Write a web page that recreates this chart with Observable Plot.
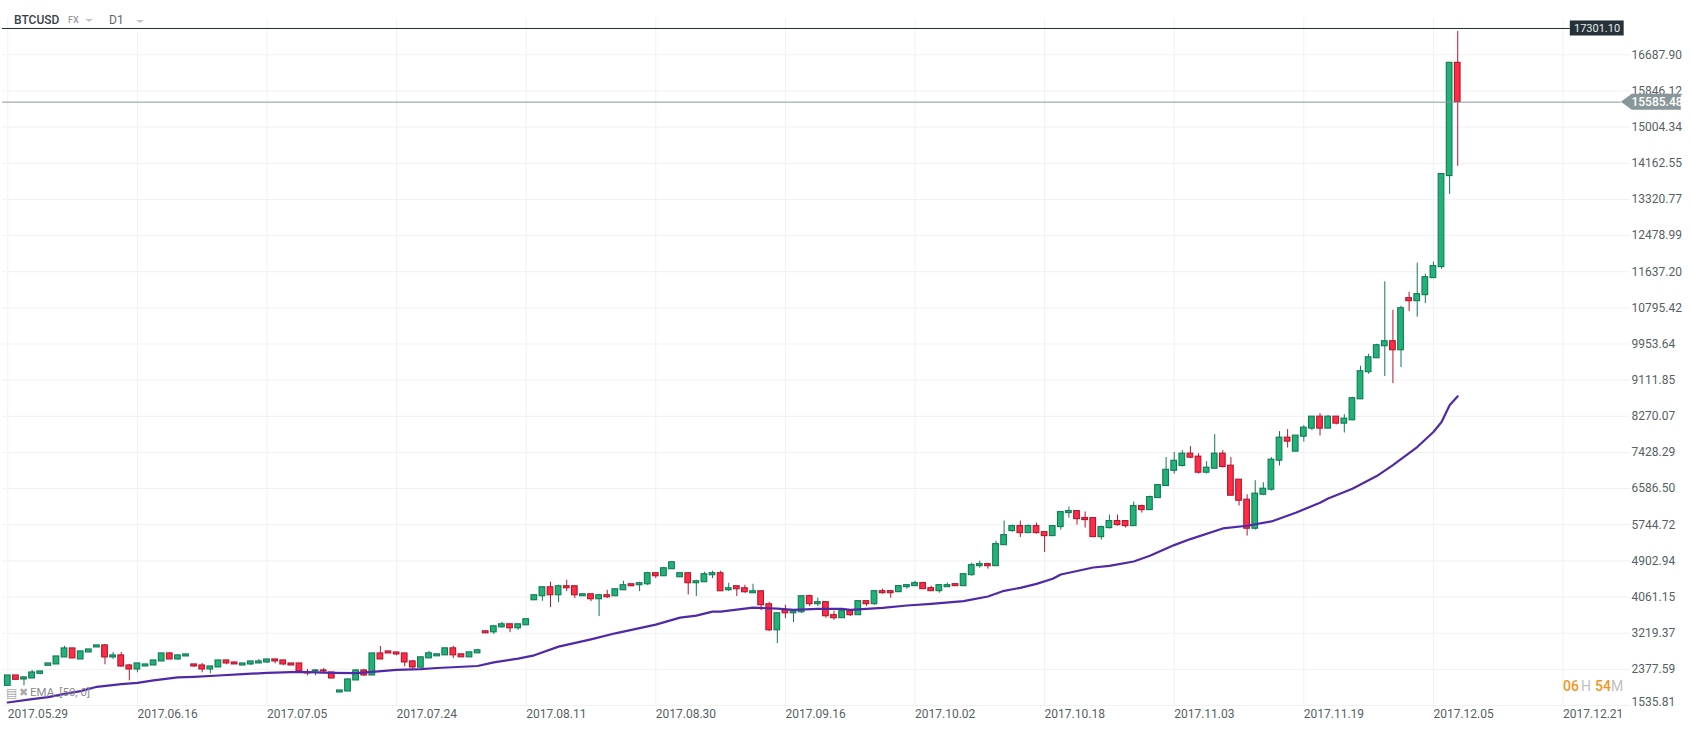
<!DOCTYPE html>
<html>
<head>
<meta charset="utf-8">
<script src="https://cdn.jsdelivr.net/npm/d3@7"></script>
<script src="https://cdn.jsdelivr.net/npm/@observablehq/plot@0.6"></script>
<style>
html,body{margin:0;padding:0;background:#fff;overflow:hidden}
#wrap{position:relative;width:1692px;height:731px;font-family:Roboto,sans-serif}
#wrap svg{display:block}
.ov{position:absolute;white-space:nowrap;line-height:1}
.caret{position:absolute;width:0;height:0;border-left:4px solid transparent;border-right:4px solid transparent;border-top:3px solid #c4c4c4}
</style>
</head>
<body>
<div id="wrap"></div>
<script>
const dateLabels = ["2017.05.29","2017.06.16","2017.07.05","2017.07.24","2017.08.11","2017.08.30","2017.09.16","2017.10.02","2017.10.18","2017.11.03","2017.11.19","2017.12.05","2017.12.21"];
const priceTicks = [1535.81,2377.59,3219.37,4061.15,4902.94,5744.72,6586.50,7428.29,8270.07,9111.85,9953.64,10795.42,11637.20,12478.99,13320.77,14162.55,15004.34,15846.12,16687.90];
const highPrice = 17301.10;
const lastPrice = 15585.48;

const open = [
1994,2235,2142,2165,2274,2461,2492,2655,2865,2608,
2771,2888,2935,2655,2702,2468,2375,2445,2468,2562,
2748,2608,2678,2492,2468,2375,2422,2585,2538,2468,
2492,2515,2538,2608,2585,2515,2515,2305,2329,2352,
2305,1839,1862,2119,2352,2235,2748,2795,2771,2748,
2562,2417,2634,2681,2704,2867,2728,2658,2751,3264,
3240,3357,3427,3334,3404,3986,4080,4289,4103,4313,
4313,4080,4126,4010,4103,4080,4219,4359,4336,4359,
4616,4546,4709,4522,4616,4383,4406,4569,4616,4219,
4313,4266,4150,4196,3893,3287,3753,3683,3707,4082,
3895,3942,3639,3569,3732,3639,3965,3895,4198,4198,
4175,4291,4315,4385,4268,4198,4291,4361,4315,4571,
4781,4827,4781,5270,5597,5713,5550,5713,5573,5480,
5690,6016,6063,5900,5900,5457,5667,5830,5830,5713,
6179,6086,6366,6646,7001,7113,7400,7330,6957,7050,
7400,7120,6794,6328,5652,6444,6561,7237,7773,7447,
7796,7983,8262,7983,8262,8099,8177,8666,9296,9622,
9902,10018,9808,11021,10951,11091,11487,11743,13864,16501];
const close = [
2235,2134,2189,2305,2329,2515,2678,2865,2632,2795,
2841,2935,2655,2702,2445,2375,2515,2492,2585,2748,
2608,2702,2725,2445,2375,2445,2585,2515,2492,2515,
2562,2562,2608,2562,2492,2468,2329,2282,2352,2329,
2165,1886,2142,2352,2235,2748,2608,2748,2725,2538,
2422,2658,2751,2728,2867,2704,2658,2774,2821,3217,
3380,3427,3334,3427,3544,4103,4289,4103,4313,4266,
4103,4126,4010,4103,4056,4243,4336,4313,4383,4616,
4546,4732,4872,4616,4383,4429,4592,4616,4196,4266,
4243,4173,4196,3870,3287,3683,3683,3730,4080,3895,
3942,3615,3569,3732,3639,3965,3895,4198,4151,4151,
4315,4338,4385,4245,4198,4338,4338,4315,4594,4804,
4827,4781,5294,5503,5713,5550,5713,5550,5480,5713,
6040,6063,5876,5853,5457,5690,5830,5736,5713,6179,
6086,6389,6669,7024,7234,7400,7307,6957,7074,7400,
7089,6421,6304,5652,6468,6584,7260,7773,7680,7820,
8006,8262,7983,8262,8099,8216,8690,9319,9645,9925,
10018,9808,10787,10951,11114,11510,11767,13911,16501,15585.48];
const high = [
2235,2235,2212,2352,2329,2515,2678,2911,2865,2795,
2841,2935,2958,2771,2771,2492,2515,2492,2585,2748,
2771,2725,2725,2492,2515,2445,2585,2585,2538,2515,
2562,2608,2608,2608,2585,2515,2515,2375,2375,2398,
2305,1886,2165,2375,2375,2748,2911,2795,2771,2748,
2585,2658,2798,2728,2867,2914,2728,2774,2844,3264,
3404,3474,3427,3427,3544,4103,4289,4406,4336,4452,
4313,4126,4126,4126,4219,4243,4429,4359,4406,4639,
4616,4756,4872,4616,4616,4452,4639,4662,4662,4383,
4313,4336,4359,4196,3940,3683,3870,3753,4080,4105,
4035,3942,3732,3732,3732,3965,3965,4198,4245,4198,
4315,4338,4431,4408,4315,4338,4385,4361,4594,4851,
4897,4851,5364,5830,5737,5830,5737,5783,5573,5713,
6040,6156,6063,6040,5900,5713,5970,5970,5830,6273,
6203,6412,6669,7311,7428,7470,7563,7400,7214,7843,
7470,7307,6794,6444,6771,6724,7307,7913,7959,7820,
8053,8262,8332,8286,8262,8309,8713,9436,9715,9948,
11401,10741,10834,11160,11836,11580,11860,13911,16501,17232];
const low = [
1994,2134,1994,2165,2251,2461,2492,2655,2632,2608,
2771,2888,2484,2608,2422,2111,2297,2445,2468,2562,
2608,2585,2678,2422,2297,2274,2422,2484,2492,2468,
2468,2515,2515,2507,2461,2468,2329,2228,2228,2305,
2165,1839,1862,2119,2212,2235,2608,2748,2694,2437,
2383,2417,2634,2681,2704,2627,2658,2658,2751,3217,
3186,3334,3233,3287,3404,3986,3963,3815,3932,4188,
4025,4080,3955,3606,4025,4080,4219,4313,4188,4328,
4491,4546,4709,4522,4111,4072,4406,4491,4196,4188,
4072,4150,4150,3745,3256,2976,3559,3466,3675,3841,
3841,3569,3522,3569,3608,3639,3841,3872,4128,4035,
4175,4245,4315,4245,4198,4151,4291,4315,4315,4548,
4734,4711,4781,5270,5573,5449,5550,5527,5099,5480,
5620,5900,5736,5667,5457,5387,5643,5713,5667,5713,
6016,6086,6366,6646,6923,7089,7283,6926,6926,7050,
7066,6421,6180,5481,5621,6421,6530,7113,7532,7447,
7672,7936,7812,7983,8068,7882,8177,8666,9249,9622,
9195,9031,9404,10710,10578,10896,11487,11697,13437,14090];

const emaIndex = [0,3,5,7,9,11,14,16,18,21,23,26,29,32,36,40,43,45,48,51,53,58,60,63,65,68,72,75,80,83,85,87,88,92,95,97,100,103,104,108,111,114,118,121,123,125,127,129,130,134,136,139,141,144,146,150,153,156,159,162,163,166,169,171,174,176,177,178,179];
const emaValue = [1606,1684,1730,1808,1870,1971,2033,2064,2119,2189,2204,2235,2266,2297,2321,2297,2290,2321,2367,2383,2409,2455,2541,2626,2704,2906,3077,3217,3419,3582,3629,3722,3722,3815,3792,3761,3784,3787,3763,3810,3864,3903,3965,4074,4206,4276,4369,4486,4587,4750,4789,4890,5022,5271,5411,5659,5721,5822,6024,6257,6358,6584,6879,7135,7555,7905,8138,8526,8736];

const candles = open.map((o,i)=>({i,o,c:close[i],h:high[i],l:low[i],up:close[i]>=o}));
const ema = emaIndex.map((i,k)=>({i,v:emaValue[k]}));
const GREEN_F="#22b278",GREEN_S="#0f7a55",RED_F="#ff2c46",RED_S="#b3162e";
const half=0.35;
const xTicks = dateLabels.map((_,k)=>k*16);

const arrow = (index,{x,y})=>{
  const Xs=x(200.55),Xt=x(199.2),Xe=x(206.6),Y=y(lastPrice),g=d3.create("svg:polygon");
  g.attr("points",[[Xt,Y],[Xs,Y-8],[Xe,Y-8],[Xe,Y+8],[Xs,Y+8]].map(p=>p.join(",")).join(" ")).attr("fill","#8a979a");
  return g.node();
};
const tickText = d=>d.toFixed(2);

const chart = Plot.plot({
  width:1692,height:731,
  marginLeft:2,marginRight:62,marginTop:18,marginBottom:26,
  style:{fontFamily:"Roboto,sans-serif",fontSize:"12px",color:"#565f64",background:"transparent"},
  x:{type:"linear",domain:[-0.654,200.33],axis:null},
  y:{type:"linear",domain:[1535.81,17533.4],axis:null},
  marks:[
    Plot.gridX(xTicks,{stroke:"#f1f1f1",strokeOpacity:1}),
    Plot.gridY(priceTicks,{stroke:"#f1f1f1",strokeOpacity:1}),
    Plot.rect([0],{x1:0.33,x2:16.75,y1:17207,y2:17533.4,fill:"#fff"}),
    Plot.axisX(xTicks,{anchor:"bottom",label:null,tickSize:0,tickPadding:3.5,textAnchor:"start",lineAnchor:"top",tickFormat:i=>dateLabels[i/16],fill:"#565f64"}),
    Plot.axisY(priceTicks.slice(1),{anchor:"right",label:null,tickSize:0,tickPadding:1,textAnchor:"start",tickFormat:tickText,fill:"#565f64"}),
    Plot.axisY(priceTicks.slice(0,1),{anchor:"right",label:null,tickSize:0,tickPadding:1,textAnchor:"start",tickFormat:tickText,fill:"#565f64",dy:-3.5}),
    Plot.ruleX(candles,{x:"i",y1:"l",y2:"h",stroke:d=>d.up?GREEN_S:RED_S,strokeWidth:1}),
    Plot.rect(candles,{x1:d=>d.i-half,x2:d=>d.i+half,y1:d=>Math.min(d.o,d.c),y2:d=>Math.max(d.o,d.c),fill:d=>d.up?GREEN_F:RED_F,stroke:d=>d.up?GREEN_S:RED_S,strokeWidth:1.1}),
    Plot.line(ema,{x:"i",y:"v",stroke:"#5029a9",strokeWidth:2.2,curve:"linear"}),
    Plot.ruleY([highPrice],{x1:-0.654,x2:192.9,stroke:"#1f2d33",strokeWidth:1}),
    Plot.ruleY([lastPrice],{x1:-0.654,x2:199.2,stroke:"#8a979a",strokeWidth:1}),
    Plot.rect([highPrice],{x1:192.9,x2:199.55,y1:d=>d-175,y2:d=>d+175,fill:"#263238"}),
    Plot.text([highPrice],{x:196.2,y:d=>d,text:tickText,fill:"#e8ecee",fontSize:11,textAnchor:"middle"}),
    arrow,
    Plot.text([lastPrice],{x:200.45,y:d=>d,text:tickText,fill:"#fff",fontSize:12,fontWeight:500,textAnchor:"start"})
  ]
});
const wrap=document.getElementById("wrap");
wrap.appendChild(chart);
const add=(html)=>wrap.insertAdjacentHTML("beforeend",html);
add('<span class="ov" style="left:14px;top:14px;font-size:12px;font-weight:500;color:#37424a">BTCUSD</span>');
add('<span class="ov" style="left:68px;top:16px;font-size:9px;font-weight:500;color:#9a9a9a">FX</span>');
add('<i class="caret" style="left:85px;top:19px"></i>');
add('<span class="ov" style="left:109px;top:14px;font-size:12px;color:#5d666b">D1</span>');
add('<i class="caret" style="left:136px;top:20px"></i>');
add('<span class="ov" style="left:6px;top:687px;font-size:12px;color:#aaa;font-family:\'DejaVu Sans\'">&#9636;</span>');
add('<span class="ov" style="left:19px;top:687px;font-size:11px;color:#aaa;font-family:\'DejaVu Sans\'">&#10006;</span>');
add('<span class="ov" style="left:30px;top:687px;font-size:11.5px;color:#8c8c8c">EMA_[50, 0]</span>');
add('<span class="ov" style="left:1563px;top:679px;font-size:14px;font-weight:500;color:#f7941d">06</span>');
add('<span class="ov" style="left:1581px;top:679px;font-size:14px;color:#c0c0c0">H</span>');
add('<span class="ov" style="left:1595px;top:679px;font-size:14px;font-weight:500;color:#f7941d">54</span>');
add('<span class="ov" style="left:1611px;top:679px;font-size:14px;color:#c0c0c0">M</span>');
</script>
</body>
</html>
